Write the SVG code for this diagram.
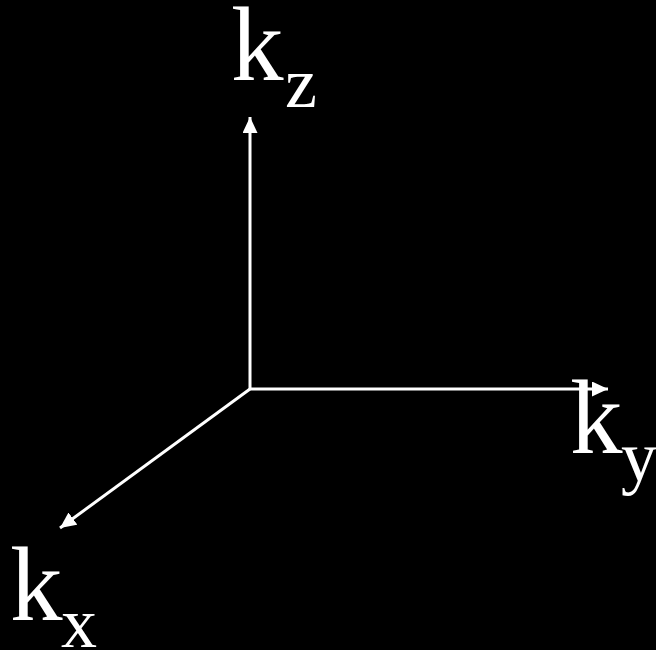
<svg xmlns="http://www.w3.org/2000/svg" width="656" height="650" viewBox="0 0 656 650">
<style>
.k{font-family:"Liberation Serif","Times New Roman",serif;font-size:105px;fill:#fff}
.s{font-family:"Liberation Serif","Times New Roman",serif;font-size:72px;fill:#fff}
.ax{stroke:#fff;stroke-width:3;fill:none}
</style>
<defs>
<marker id="ah" viewBox="0 0 16 15" refX="16" refY="7.5" markerWidth="16" markerHeight="15" markerUnits="userSpaceOnUse" orient="auto">
<path d="M0,0 L16,7.5 L0,15 Z" fill="#fff"/>
</marker>
</defs>
<rect width="656" height="650" fill="#000"/>
<g id="connectors">
<line class="ax" x1="250" y1="389" x2="250" y2="117" marker-end="url(#ah)"/>
<line class="ax" x1="249" y1="389" x2="608" y2="389" marker-end="url(#ah)"/>
<line class="ax" x1="250" y1="389" x2="60" y2="528" marker-end="url(#ah)"/>
</g>
<g id="kz"><text class="k" x="231" y="80">k</text><text class="s" x="285" y="107">z</text></g>
<g id="ky"><text class="k" x="570" y="453">k</text><text class="s" x="621" y="481">y</text></g>
<g id="kx"><text class="k" x="10" y="620">k</text><text class="s" x="61" y="647">x</text></g>
</svg>
